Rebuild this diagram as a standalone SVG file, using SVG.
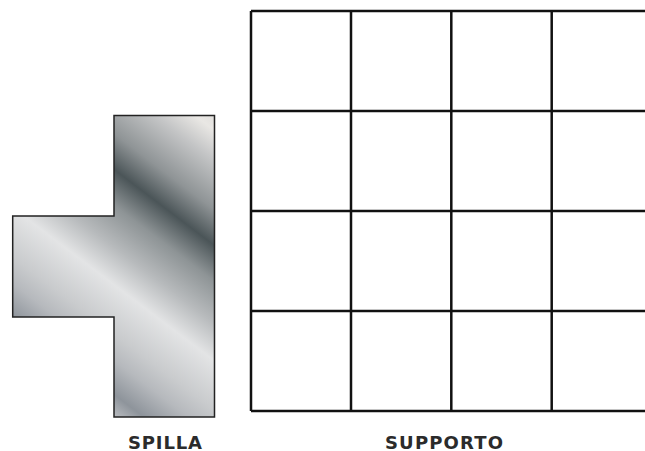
<svg xmlns="http://www.w3.org/2000/svg" width="645" height="451" viewBox="0 0 645 451">
  <style>
    .grid { stroke: #111; stroke-width: 2.5; fill: none; }
    .label { font-family: "DejaVu Sans", "Liberation Sans", sans-serif; font-weight: bold; font-size: 18px; fill: #2b2b2b; text-anchor: middle; }
  </style>
  <defs>
    <linearGradient id="metal" gradientUnits="userSpaceOnUse" x1="114" y1="417" x2="296" y2="177">
      <stop offset="0" stop-color="#b9bcc0"/>
      <stop offset="0.06" stop-color="#8e949b"/>
      <stop offset="0.15" stop-color="#b6b9bd"/>
      <stop offset="0.22" stop-color="#c9cbcd"/>
      <stop offset="0.35" stop-color="#e3e4e5"/>
      <stop offset="0.45" stop-color="#b7babc"/>
      <stop offset="0.56" stop-color="#8e9496"/>
      <stop offset="0.655" stop-color="#4b5558"/>
      <stop offset="0.75" stop-color="#8f9496"/>
      <stop offset="0.88" stop-color="#c4c5c6"/>
      <stop offset="0.96" stop-color="#e9e7e4"/>
      <stop offset="1" stop-color="#e2e0dd"/>
    </linearGradient>
  </defs>
  <g id="spilla">
    <path d="M114,115.5 H214.5 V417 H114 V317 H12.7 V216 H114 Z" fill="url(#metal)" stroke="#222" stroke-width="1.5"/>
  </g>
  <g id="supporto">
    <path class="grid" d="M251,11 H645 M251,111 H645 M251,211 H645 M251,311 H645 M251,411 H645"/>
    <path class="grid" d="M251,11 V411 M351,11 V411 M451.3,11 V411 M551.7,11 V411"/>
  </g>
  <g id="labels">
    <text class="label" x="165" y="449" textLength="74" lengthAdjust="spacing">SPILLA</text>
    <text class="label" x="444" y="449" textLength="118" lengthAdjust="spacing">SUPPORTO</text>
  </g>
</svg>
